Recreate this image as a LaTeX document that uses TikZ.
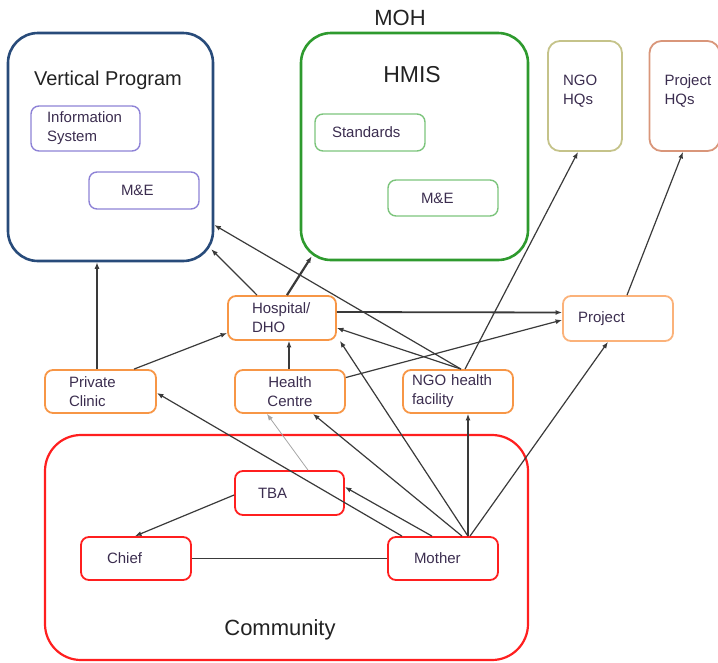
\documentclass[tikz,border=0pt]{standalone}
\usepackage{fontspec}
\setmainfont{Liberation Sans}
\usetikzlibrary{arrows.meta}
\definecolor{vpblue}{HTML}{284B7A}
\definecolor{mohgreen}{HTML}{2E9A2E}
\definecolor{lilac}{HTML}{8E82D6}
\definecolor{palegreen}{HTML}{7CC47C}
\definecolor{olive}{HTML}{C5C38A}
\definecolor{salmon}{HTML}{D9967A}
\definecolor{facility}{HTML}{F79646}
\definecolor{lightorange}{HTML}{FBB27A}
\definecolor{commred}{HTML}{FF1F1F}
\definecolor{labelc}{HTML}{3B2D4F}
\definecolor{titlec}{HTML}{222222}
\definecolor{linec}{HTML}{3A3A3A}
\begin{document}
\begin{tikzpicture}[x=1pt,y=-1pt,
  every node/.style={font=\fontsize{15}{19}\selectfont, text=labelc},
  frame/.style={draw, line width=2.6pt, rounded corners=30pt, inner sep=0pt},
  item/.style={draw, rounded corners=8pt, line width=1.8pt, inner ysep=0pt, align=left},
  title/.style={text=titlec, inner sep=0pt},
  conn/.style={draw=linec, line width=1.2pt, -{Latex[length=6.5pt,width=5pt]}},
  boldconn/.style={conn, line width=2.2pt},
  faint/.style={draw=gray!70, line width=0.8pt, -{Latex[length=6.5pt,width=5pt]}},
]
\useasboundingbox (0,0) rectangle (718,662);

% ---- upper tier: programmes and headquarters
\node[frame, draw=vpblue, minimum width=205pt, minimum height=228pt] (vp) at (110.5,147) {};
\node[title, font=\fontsize{20}{24}\selectfont] (vptitle) at (108,80) {Vertical Program};
\node[item, draw=lilac, line width=1.4pt, minimum height=45pt, text width=77pt, inner xsep=16pt] (infosys) at (85.5,128.5) {Information\\System};
\node[item, draw=lilac, line width=1.4pt, minimum height=37pt, text width=46pt, inner xsep=32pt] (vpme) at (144,190.5) {M\&E};

\node[frame, draw=mohgreen, minimum width=227pt, minimum height=227pt] (hmis) at (414.5,146.5) {};
\node[title, font=\fontsize{22}{26}\selectfont] (moh) at (400,18) {MOH};
\node[title, font=\fontsize{23}{27}\selectfont] (hmistitle) at (412,75) {HMIS};
\node[item, draw=palegreen, line width=1.4pt, minimum height=37pt, text width=76pt, inner xsep=17pt] (std) at (370,132.5) {Standards};
\node[item, draw=palegreen, line width=1.4pt, minimum height=36pt, text width=44pt, inner xsep=33pt] (hme) at (443,198) {M\&E};

\node[item, draw=olive, rounded corners=12pt, minimum height=110pt, text width=44pt, inner xsep=15pt, text depth=32pt] (ngohq) at (585,96) {NGO\\HQs};
\node[item, draw=salmon, rounded corners=12pt, minimum height=110pt, text width=40pt, inner xsep=15pt, text depth=32pt] (prjhq) at (684.5,96) {Project\\HQs};

% ---- middle tier: facilities
\node[item, draw=facility, minimum height=44pt, text width=60pt, inner xsep=24pt] (hosp) at (282,318) {Hospital/\\DHO};
\node[item, draw=lightorange, minimum height=45pt, text width=80pt, inner xsep=15pt] (prj) at (618,318.5) {Project};
\node[item, draw=facility, minimum height=43pt, text width=63pt, inner xsep=24pt] (pc) at (100.5,391.5) {Private\\Clinic};
\node[item, draw=facility, minimum height=43pt, text width=94pt, inner xsep=8pt, align=center] (hc) at (290,391.5) {Health\\Centre};
\node[item, draw=facility, minimum height=43pt, text width=92pt, inner xsep=9pt] (ngof) at (458,391.5) {NGO health\\facility};

% ---- community
\node[draw=commred, line width=2.2pt, rounded corners=36pt, minimum width=483pt, minimum height=225pt, inner sep=0pt] (comm) at (286.5,547.5) {};
\node[title, font=\fontsize{22}{26}\selectfont] (commtitle) at (280,630) {Community};
\node[item, draw=commred, minimum height=44pt, text width=63pt, inner xsep=23pt] (tba) at (289.5,493) {TBA};
\node[item, draw=commred, minimum height=43pt, text width=58pt, inner xsep=26pt] (chief) at (136,558.5) {Chief};
\node[item, draw=commred, minimum height=43pt, text width=58pt, inner xsep=26pt] (mother) at (443,558.5) {Mother};

% ---- reporting and referral links
\draw[conn] ([xshift=-3.5pt]pc.north) -- ([xshift=-3.5pt]pc.north |- vp.south);
\draw[conn] ([xshift=33.5pt]pc.north) -- ([yshift=-15pt]hosp.west);
\draw[conn] ([xshift=-25pt]hosp.north) -- ([xshift=-3pt,yshift=13pt]vp.south east);
\draw[boldconn] ([xshift=5pt]hosp.north) -- ([xshift=12pt,yshift=5pt]hmis.south west);
\draw[conn] ([xshift=3pt]ngof.north) -- ([yshift=-78pt]vp.east);
\draw[conn, line width=1.8pt] ([yshift=6pt]hosp.east) -- ([yshift=6pt]prj.west);
\draw[conn] ([yshift=14pt]hc.east) -- ([yshift=-1.5pt]prj.west);
\draw[conn] ([xshift=3pt]ngof.north) -- ([yshift=-10pt]hosp.east);
\draw[conn] ([xshift=7pt]ngof.north) -- ([xshift=-7pt]ngohq.south);
\draw[conn] ([xshift=9pt]prj.north) -- ([xshift=-1.5pt]prjhq.south);
\draw[conn] ([xshift=-1pt]hc.north) -- ([xshift=-1pt]hc.north |- hosp.south);

\draw[conn] ([xshift=25pt]mother.north) -- ([xshift=3pt]hosp.south east);
\draw[conn] ([xshift=19pt]mother.north) -- ([xshift=23pt]hc.south);
\draw[conn] ([xshift=25pt]mother.north) -- ([xshift=25pt]mother.north |- ngof.south);
\draw[conn] ([xshift=27pt]mother.north) -- ([xshift=-10pt]prj.south);
\draw[conn] ([xshift=-41pt]mother.north) -- ([yshift=-1.5pt]pc.east);
\draw[conn] ([xshift=-11pt]mother.north) -- ([yshift=6pt]tba.east);
\draw[faint] ([xshift=18.5pt]tba.north) -- ([xshift=-23pt]hc.south);
\draw[conn] ([yshift=-2pt]tba.west) -- ([xshift=-1pt]chief.north);
\draw[draw=linec, line width=1.2pt] (chief.east) -- (mother.west);
\end{tikzpicture}
\end{document}
